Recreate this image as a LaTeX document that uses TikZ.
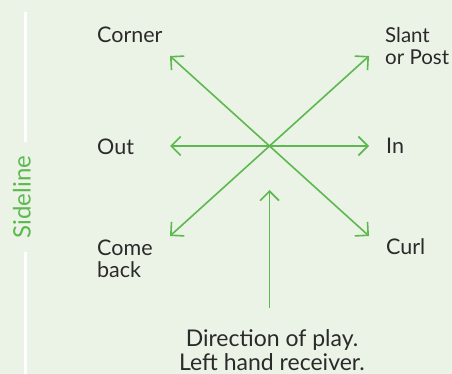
\documentclass[tikz,border=0pt]{standalone}
\usepackage{fontspec}
\setmainfont{Lato}
\usetikzlibrary{arrows.meta}
\definecolor{fieldbg}{HTML}{EBF3E6}
\definecolor{routegreen}{HTML}{5DB94F}
\definecolor{labelgray}{HTML}{2A2A2A}

\begin{document}
\begin{tikzpicture}[x=1pt, y=-1pt, font=\fontsize{21.5}{22}\selectfont,
  route/.style={-{Straight Barb[length=9.5pt, width=19pt]}, draw=routegreen, line width=1.6pt},
  lab/.style={text=labelgray, inner sep=0pt, anchor=base west, align=left},
  side/.style={draw=white, line width=3pt}]
  % field
  \fill[fieldbg] (0,0) rectangle (452,374);
  \useasboundingbox (0,0) rectangle (452,374);
  % sideline
  \node[text=routegreen, font=\fontsize{24}{24}\selectfont, rotate=90, inner xsep=14pt, inner ysep=0pt] (sideline) at (22,197) {Sideline};
  \coordinate (sidetop) at (25,12);
  \coordinate (sidebot) at (25,374);
  \draw[side] (sidetop) -- (sidetop |- sideline.east);
  \draw[side] (sidebot) -- (sidebot |- sideline.west);
  % route labels (base = last line)
  \node[lab] (corner) at (97,43)  {Corner};
  \node[lab, font=\fontsize{20.5}{22}\selectfont] (slant) at (385,65) {Slant\\or Post};
  \node[lab] (out)    at (97,155) {Out};
  \node[lab] (in)     at (386,154) {In};
  \node[lab] (come)   at (97,277) {Come\\back};
  \node[lab] (curl)   at (386,254) {Curl};
  \node[lab, anchor=base, align=center, font=\fontsize{23}{24}\selectfont] (play) at (272,370) {Direction of play.\\Left hand receiver.};
  % route tree
  \coordinate (c)  at (269.5,146);
  \coordinate (ul) at (170,56);
  \coordinate (ur) at (369,56);
  \coordinate (l)  at (170,146);
  \coordinate (r)  at (369,146);
  \coordinate (dl) at (170,236);
  \coordinate (dr) at (369,236);
  \coordinate (up) at (269.5,190);
  \coordinate (base) at (269.5,308);
  \draw[route] (c) -- (ul);
  \draw[route] (c) -- (ur);
  \draw[route] (c) -- (l);
  \draw[route] (c) -- (r);
  \draw[route] (c) -- (dl);
  \draw[route] (c) -- (dr);
  \draw[route] (base) -- (up);
\end{tikzpicture}
\end{document}
